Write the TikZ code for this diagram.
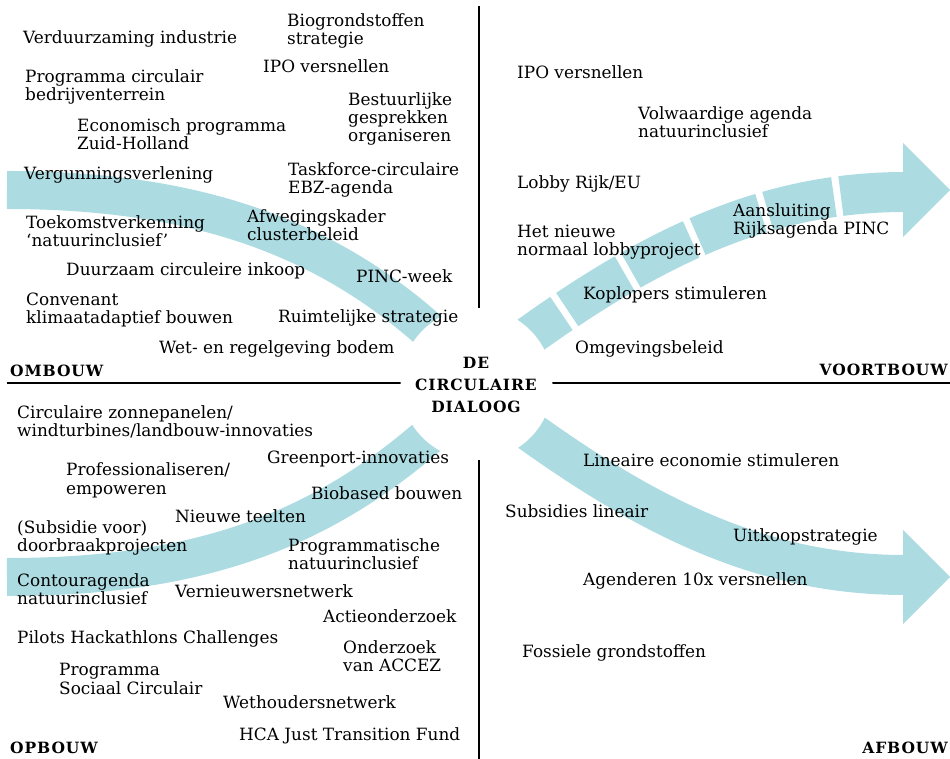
\documentclass[tikz,border=0pt]{standalone}
\usepackage{fontspec}
\setmainfont{DejaVu Serif}
\newfontfamily\labelfont{DejaVu Serif}[LetterSpace=6]
\usetikzlibrary{calc}
\definecolor{bandblue}{RGB}{172,220,226}

\begin{document}
\begin{tikzpicture}[x=1pt, y=-1pt,
    item/.style={anchor=base west, inner sep=0pt, align=left, font=\fontsize{16.9}{18.2}\selectfont},
    corner/.style={inner sep=0pt, font=\labelfont\bfseries\fontsize{15.5}{22}\selectfont},
    band/.style={draw=bandblue, line width=38pt},
    axis/.style={line width=1.1pt}]
    \useasboundingbox (0,0) rectangle (950,759);

    \coordinate (C) at (476.5,384);
    \coordinate (W) at (7,383);
    \coordinate (E) at (950,383);
    \coordinate (N) at (479,6);
    \coordinate (S) at (479,759);

    \draw[band] (7,190) .. controls (220,190) and (360,250) .. (477,378);
    \draw[band] (7,577) .. controls (220,577) and (350,520) .. (477,390);
    \draw[band, line width=40pt, dash pattern=on 67.75pt off 7pt, dash phase=38pt]
        (477,375) .. controls (637,251) and (760,192) .. (905,192);
    \draw[band, line width=40pt] (477,392) .. controls (637,516) and (760,575) .. (905,575);
    \fill[bandblue] (903,143) -- (950,190) -- (903,237) -- cycle;
    \fill[bandblue] (903,530) -- (950,577) -- (903,624) -- cycle;

    \draw[axis] (W) -- (E);
    \draw[axis] (N) -- (S);
    \fill[white] (C) circle (76);

    \node[corner, align=center] (dialoog) at (476,385) {DE\\CIRCULAIRE\\DIALOOG};
    \node[corner, anchor=base west] (ombouw) at (10,376) {OMBOUW};
    \node[corner, anchor=base east] (voortbouw) at (948,375) {VOORTBOUW};
    \node[corner, anchor=base west] (opbouw) at (10,753) {OPBOUW};
    \node[corner, anchor=base east] (afbouw) at (948,753) {AFBOUW};

    \node[item] (bio) at (287,45) {Biogrondstoffen\\strategie};
    \node[item] (verduurzaming) at (23,44) {Verduurzaming industrie};
    \node[item] (ipo) at (263,73) {IPO versnellen};
    \node[item] (bedrijven) at (25,101) {Programma circulair\\bedrijventerrein};
    \node[item] (bestuurlijk) at (348,142) {Bestuurlijke\\gesprekken\\organiseren};
    \node[item] (economisch) at (77,150) {Economisch programma\\Zuid-Holland};
    \node[item] (vergunning) at (24,180) {Vergunningsverlening};
    \node[item] (taskforce) at (288,193.5) {Taskforce-circulaire\\EBZ-agenda};
    \node[item] (toekomst) at (26,246.5) {Toekomstverkenning\\‘natuurinclusief’};
    \node[item] (afweging) at (247,241) {Afwegingskader\\clusterbeleid};
    \node[item] (inkoop) at (66,276) {Duurzaam circuleire inkoop};
    \node[item] (pincweek) at (356,283) {PINC-week};
    \node[item] (convenant) at (26,323.5) {Convenant\\klimaatadaptief bouwen};
    \node[item] (ruimtelijk) at (278,322) {Ruimtelijke strategie};
    \node[item] (bodem) at (159,353) {Wet- en regelgeving bodem};

    \node[item] (ipoR) at (517,79) {IPO versnellen};
    \node[item] (volwaardig) at (638,138) {Volwaardige agenda\\natuurinclusief};
    \node[item] (lobby) at (517,189) {Lobby Rijk/EU};
    \node[item] (normaal) at (517,256) {Het nieuwe\\normaal lobbyproject};
    \node[item] (aansluiting) at (733,235) {Aansluiting\\Rijksagenda PINC};
    \node[item] (koplopers) at (583,299) {Koplopers stimuleren};
    \node[item] (omgeving) at (575,353) {Omgevingsbeleid};

    \node[item] (zonnepanelen) at (17,436.5) {Circulaire zonnepanelen/\\windturbines/landbouw-innovaties};
    \node[item] (greenport) at (267,463) {Greenport-innovaties};
    \node[item] (empower) at (66,494) {Professionaliseren/\\empoweren};
    \node[item] (biobased) at (311,499) {Biobased bouwen};
    \node[item] (teelten) at (175,522) {Nieuwe teelten};
    \node[item] (doorbraak) at (17,551.5) {(Subsidie voor)\\doorbraakprojecten};
    \node[item] (programmatisch) at (288,569.5) {Programmatische\\natuurinclusief};
    \node[item] (contour) at (17,604.5) {Contouragenda\\natuurinclusief};
    \node[item] (vernieuwers) at (175,597) {Vernieuwersnetwerk};
    \node[item] (actie) at (323,622) {Actieonderzoek};
    \node[item] (pilots) at (17,643) {Pilots Hackathlons Challenges};
    \node[item] (accez) at (343,671.5) {Onderzoek\\van ACCEZ};
    \node[item] (sociaal) at (59,694) {Programma\\Sociaal Circulair};
    \node[item] (wethouders) at (223,708) {Wethoudersnetwerk};
    \node[item] (hca) at (239,740) {HCA Just Transition Fund};

    \node[item] (lineair) at (583,466) {Lineaire economie stimuleren};
    \node[item] (subsidies) at (505,517) {Subsidies lineair};
    \node[item] (uitkoop) at (733,541) {Uitkoopstrategie};
    \node[item] (agenderen) at (583,585) {Agenderen 10x versnellen};
    \node[item] (fossiel) at (522,657) {Fossiele grondstoffen};
\end{tikzpicture}
\end{document}
